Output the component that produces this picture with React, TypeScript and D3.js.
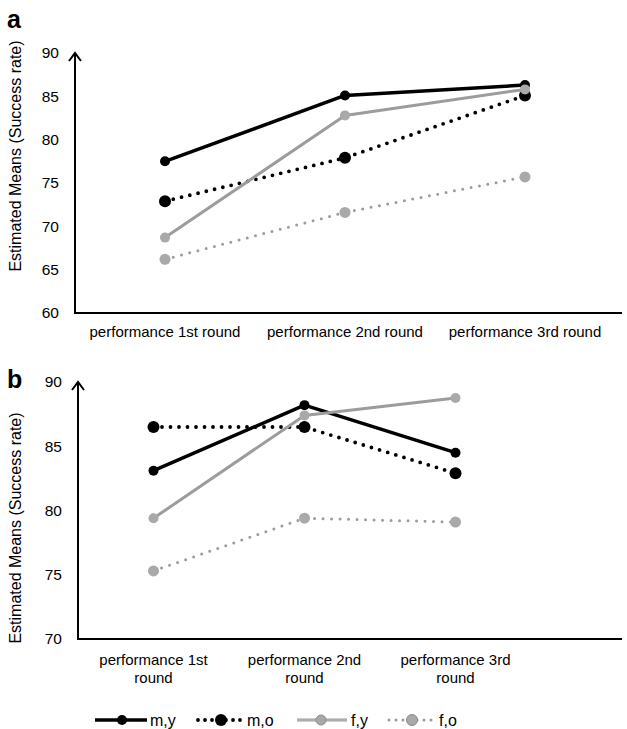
import React from "react";
import * as d3 from "d3";

const categoriesA = ["performance 1st round", "performance 2nd round", "performance 3rd round"];
const categoriesB = [["performance 1st", "round"], ["performance 2nd", "round"], ["performance 3rd", "round"]];
const seriesNames = ["m,y", "m,o", "f,y", "f,o"];

const aMY = [77.5, 85.1, 86.3];
const aMO = [72.9, 77.9, 85.1];
const aFY = [68.7, 82.8, 85.8];
const aFO = [66.2, 71.6, 75.7];

const bMY = [83.1, 88.2, 84.5];
const bMO = [86.5, 86.5, 82.9];
const bFY = [79.4, 87.4, 88.75];
const bFO = [75.3, 79.4, 79.1];

const ticksA = [60, 65, 70, 75, 80, 85, 90];
const ticksB = [70, 75, 80, 85, 90];

const BLACK = "#000";
const GREY = "#9c9c9c";
const GREY_FILL = "#a9a9a9";

const styles = [
  { color: BLACK, fill: BLACK, width: 3.5, dash: null, r: 5 },
  { color: BLACK, fill: BLACK, width: 3.8, dash: "0 8.5", r: 6 },
  { color: GREY, fill: GREY_FILL, width: 3, dash: null, r: 5 },
  { color: GREY, fill: GREY_FILL, width: 3, dash: "0 8.5", r: 5.5 },
];

const FONT = "'Liberation Sans', Arial, sans-serif";

function Panel({ letter, letterY, yDomain, yRange, xRange, ticks, series, labels, labelY, axisRight, titleY }) {
  const x = d3.scaleBand().domain(labels.map((_, i) => String(i))).range(xRange);
  const y = d3.scaleLinear().domain(yDomain).range(yRange);
  const line = d3.line<number>().x((_, i) => x(String(i))! + x.bandwidth() / 2).y((d) => y(d));
  const x0 = xRange[0];
  const yTop = yRange[1];
  const yBot = yRange[0];
  return (
    <g>
      <text x={7} y={letterY} fontSize={25} fontWeight="bold" fontFamily={FONT}>{letter}</text>
      <text transform={`translate(21,${titleY}) rotate(-90)`} textAnchor="middle" fontSize={16} fontFamily={FONT}>
        Estimated Means (Success rate)
      </text>
      {ticks.map((t) => (
        <text key={t} x={x0 - 16} y={y(t)} dy="0.35em" textAnchor="end" fontSize={15.5} fontFamily={FONT}>{t}</text>
      ))}
      <line x1={x0} x2={x0} y1={yBot + 1} y2={yTop} stroke={BLACK} strokeWidth={2} />
      <path d={`M${x0 - 6},${yTop + 8} L${x0},${yTop} L${x0 + 6},${yTop + 8}`} fill="none" stroke={BLACK} strokeWidth={2} />
      <line x1={x0 - 1} x2={axisRight} y1={yBot} y2={yBot} stroke={BLACK} strokeWidth={2} />
      {labels.map((lab, i) => {
        const lines = Array.isArray(lab) ? lab : [lab];
        return (
          <text key={i} x={x(String(i))! + x.bandwidth() / 2} y={labelY} textAnchor="middle" fontSize={15} fontFamily={FONT}>
            {lines.map((l, j) => (
              <tspan key={j} x={x(String(i))! + x.bandwidth() / 2} dy={j === 0 ? 0 : 18}>{l}</tspan>
            ))}
          </text>
        );
      })}
      {series.map((vals, si) => {
        const s = styles[si];
        return (
          <g key={si}>
            <path d={line(vals)!} fill="none" stroke={s.color} strokeWidth={s.width}
              strokeDasharray={s.dash ?? undefined} strokeLinecap={s.dash ? "round" : "butt"} strokeLinejoin="round" />
            {vals.map((v, i) => (
              <circle key={i} cx={x(String(i))! + x.bandwidth() / 2} cy={y(v)} r={s.r} fill={s.fill} />
            ))}
          </g>
        );
      })}
    </g>
  );
}

function Legend({ y }) {
  const items = [
    { x1: 95, x2: 147, mx: 122, tx: 150 },
    { x1: 198, x2: 242, mx: 221, tx: 247 },
    { x1: 297, x2: 347, mx: 321, tx: 351 },
    { x1: 389, x2: 434, mx: 412, tx: 439 },
  ];
  return (
    <g>
      {items.map((it, i) => {
        const s = styles[i];
        return (
          <g key={i}>
            <line x1={it.x1} x2={it.x2} y1={y} y2={y} stroke={s.color} strokeWidth={s.width}
              strokeDasharray={s.dash ? "0 7" : undefined} strokeLinecap={s.dash ? "round" : "butt"} />
            {i === 2 ? <line x1={it.x1} x2={it.x2} y1={y} y2={y} stroke="#bdbdbd" strokeWidth={1} /> : null}
            <circle cx={it.mx} cy={y} r={s.r} fill={s.fill} stroke={i >= 2 ? "#8c8c8c" : "none"} strokeWidth={1} />
            <text x={it.tx} y={y} dy="0.35em" fontSize={16} fontFamily={FONT}>{seriesNames[i]}</text>
          </g>
        );
      })}
    </g>
  );
}

export default function App() {
  return (
    <svg width={627} height={729} style={{ position: "absolute", left: 0, top: 0, background: "#fff" }}>
      <rect width={627} height={729} fill="#fff" />
      <Panel letter="a" letterY={28} yDomain={[60, 90]} yRange={[313, 53]} xRange={[75, 615]} ticks={ticksA}
        series={[aMY, aMO, aFY, aFO]} labels={categoriesA} labelY={337} axisRight={622} titleY={156} />
      <Panel letter="b" letterY={388} yDomain={[70, 90]} yRange={[639, 382]} xRange={[78, 531]} ticks={ticksB}
        series={[bMY, bMO, bFY, bFO]} labels={categoriesB} labelY={665} axisRight={622} titleY={528} />
      <Legend y={720} />
    </svg>
  );
}
